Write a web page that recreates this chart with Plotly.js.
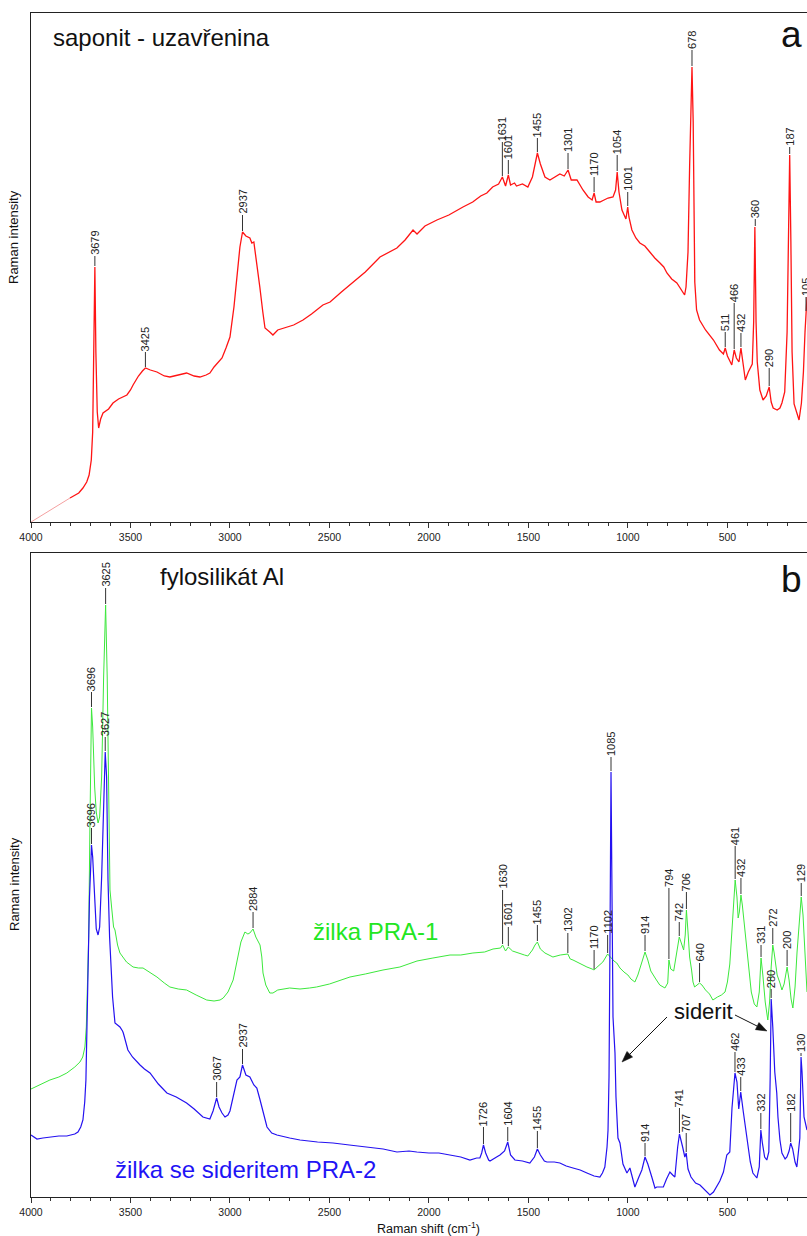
<!DOCTYPE html>
<html><head><meta charset="utf-8">
<script src="https://cdn.plot.ly/plotly-3.0.1.min.js"></script>
<style>html,body{margin:0;padding:0;background:#fff;} #chart{width:807px;height:1236px;}</style>
</head><body><div id="chart"></div>
<script>
// ---------------- DATA (arbitrary intensity units) ----------------
const redX = [4000,3900,3804,3760,3739,3720,3708,3697,3690,3684,3679,3674,3667,3660,3650,3638,3610,3588,3560,3518,3500,3487,3460,3440,3425,3400,3367,3330,3302,3260,3218,3180,3151,3120,3101,3080,3060,3040,3020,3000,2980,2965,2950,2937,2920,2900,2890,2880,2865,2850,2835,2824,2800,2784,2760,2714,2680,2633,2590,2533,2497,2440,2382,2320,2246,2200,2161,2120,2080,2060,2020,1960,1900,1829,1780,1740,1709,1680,1650,1631,1615,1601,1590,1570,1560,1530,1503,1480,1473,1455,1440,1417,1392,1370,1342,1320,1301,1285,1256,1226,1200,1180,1170,1160,1141,1120,1100,1075,1062,1054,1045,1030,1010,1001,995,980,960,940,915,890,865,839,820,804,780,754,730,715,708,698,690,684,678,672,668,664,655,640,610,570,540,520,511,500,478,466,455,442,432,422,410,395,385,375,368,362,356,350,337,321,305,290,280,270,250,236,226,212,200,193,187,181,175,165,150,140,128,118,110,105,100];
const redY = [0,12,24,29,34,40,47,62,90,170,255,170,110,94,103,109,113,119,123,127,132,137,146,151,154,152,150,146,145,147,149,146,145,147,149,155,160,164,174,185,215,249,275,290,286,284,279,280,260,235,210,194,190,187,192,195,197,202,208,217,220,230,240,250,265,270,274,282,292,288,296,302,307,315,320,326,329,335,338,345,336,347,337,339,336,338,335,345,352,369,358,345,342,345,348,346,352,342,342,332,325,322,329,320,320,322,324,325,332,350,330,312,303,315,305,292,284,279,276,270,264,259,255,249,243,239,232,227,235,270,355,420,455,400,330,240,212,202,192,182,172,168,174,166,157,172,164,160,174,160,142,150,155,158,200,295,200,160,132,122,126,135,120,114,112,114,119,130,190,300,367,280,170,118,108,102,119,150,190,210,225];

const greenX = [4000,3950,3905,3860,3820,3780,3754,3740,3729,3722,3717,3710,3704,3698,3696,3690,3680,3672,3663,3655,3645,3635,3625,3617,3610,3603,3595,3585,3578,3565,3553,3520,3487,3460,3437,3400,3367,3330,3302,3260,3218,3170,3117,3080,3050,3034,3010,2984,2970,2959,2945,2925,2910,2900,2884,2870,2849,2840,2834,2820,2814,2800,2784,2760,2700,2648,2600,2565,2500,2440,2397,2320,2231,2146,2060,1980,1894,1840,1779,1720,1678,1640,1630,1615,1601,1580,1543,1520,1503,1480,1467,1455,1440,1417,1377,1340,1302,1290,1276,1240,1206,1180,1170,1160,1140,1126,1102,1090,1070,1056,1040,1020,1000,985,965,950,930,914,900,885,860,840,814,800,794,785,770,760,742,730,720,712,706,698,690,680,673,665,650,640,628,610,590,573,550,530,512,500,488,475,465,461,452,446,440,432,425,410,397,380,365,352,340,331,322,310,297,288,280,272,265,250,236,226,215,200,190,180,171,160,150,136,129,120,113,105,100];
const greenY = [108,113,117,120,124,130,135,140,150,170,200,260,370,460,489,470,410,385,374,380,420,520,592,520,420,307,290,270,267,252,244,235,230,229,229,224,220,214,210,208,207,202,197,196,197,199,205,217,230,242,255,265,263,264,268,260,252,240,224,212,209,204,204,207,209,208,209,210,213,217,220,223,227,230,236,239,242,242,244,245,248,249,252,246,250,246,244,242,241,247,252,255,248,244,240,242,243,238,237,233,230,228,227,229,232,235,243,240,236,234,229,225,222,218,215,222,235,245,237,226,218,212,209,214,237,228,226,240,260,253,247,262,287,265,240,227,215,210,212,214,212,207,203,197,200,202,205,215,233,275,312,317,300,279,285,302,292,262,234,205,193,190,205,239,222,195,177,195,230,252,244,222,214,207,213,230,217,198,189,210,245,279,300,282,250,214,205];

const blueX = [4000,3970,3940,3900,3860,3820,3780,3764,3750,3739,3730,3724,3718,3714,3706,3698,3696,3690,3682,3672,3663,3655,3645,3635,3627,3620,3613,3605,3598,3590,3578,3565,3553,3540,3536,3513,3490,3452,3430,3402,3360,3317,3270,3218,3180,3136,3101,3085,3067,3055,3040,3025,3010,3000,2980,2965,2950,2937,2920,2900,2880,2865,2850,2840,2825,2814,2790,2764,2700,2648,2560,2482,2400,2312,2230,2161,2100,2061,2000,1950,1894,1840,1794,1760,1744,1735,1726,1715,1700,1693,1660,1643,1620,1604,1590,1568,1530,1493,1470,1455,1440,1420,1407,1370,1342,1310,1276,1240,1206,1170,1141,1128,1116,1105,1100,1095,1090,1085,1080,1075,1065,1060,1050,1040,1025,1005,990,965,945,930,914,900,880,864,855,822,806,789,775,764,750,741,725,714,707,698,683,673,660,638,610,588,570,538,520,503,488,477,462,452,443,433,420,402,385,372,352,340,332,325,313,302,292,285,280,272,262,252,246,236,226,210,201,190,182,172,160,151,140,136,130,125,115,105,100];
const blueY = [62,58,59,60,61,61,63,65,70,77,95,117,180,217,300,340,352,340,300,268,262,270,320,400,445,420,317,260,234,200,174,172,170,166,164,147,140,132,128,124,113,104,100,94,88,80,78,86,99,90,84,80,82,86,105,117,120,132,122,120,112,109,98,90,76,70,64,62,59,57,55,54,52,50,48,45,46,45,44,44,42,40,37,39,39,44,52,44,37,36,40,42,46,55,42,37,36,34,40,48,42,36,35,35,34,31,29,27,24,21,20,24,30,50,67,120,260,425,300,180,144,100,59,54,33,24,29,10,20,27,40,33,20,9,10,10,18,25,22,20,50,63,50,40,44,28,20,17,14,12,6,2,5,16,25,42,45,89,124,115,88,105,85,57,35,24,19,30,67,55,40,37,45,120,198,170,125,104,80,57,44,38,40,46,54,48,35,30,50,59,140,125,80,70,67];

const labelsRed   = [3679,3425,2937,1631,1601,1455,1301,1170,1054,1001,678,511,466,432,360,290,187,105];
const labelsGreen = [3696,3625,2884,1630,1601,1455,1302,1170,1102,914,794,742,706,640,461,432,331,272,200,129];
const labelsBlue  = [3696,3627,3067,2937,1726,1604,1455,1085,914,741,707,462,433,332,280,182,130];
const xTickStep = 500;

// ---------------- STYLE / LAYOUT ----------------
const FONT = "Arial, 'Liberation Sans', sans-serif";
const L = 31, T = 13, B = 39, W = 807, H = 1236;
const PH = H - T - B;              // 1184
const bottomPix = H - B;           // 1197
const pxX = p => (p - L) / (W - L);
const pxY = p => (bottomPix - p) / PH;

// leader line lengths for the peak labels
const leadRed = {3679:11,3425:16,2937:17,1631:35,1601:15,1455:15,1301:17,1170:16,1054:17,1001:15,678:17,511:16,466:47,432:15,360:8,290:19,187:8,105:15};
const leadGreen = {3696:16,3625:17,2884:17,1630:55,1601:20,1455:17,1302:21,1170:20,1102:19,914:17,794:72,742:15,706:18,640:20,461:34,432:17,331:13,272:17,200:17,129:14};
const leadBlue = {3696:17,3627:15,3067:16,2937:16,1726:18,1604:15,1455:18,1085:15,914:14,741:26,707:20,462:21,433:15,332:17,280:10,182:30,130:4};

const shapes = [], annotations = [];
function addLabels(labels, lead, xs, ys, xa, ya) {
  labels.forEach(wn => {
    let idx = 0, best = Infinity;
    xs.forEach((x, i) => { const d = Math.abs(x - wn); if (d < best) { best = d; idx = i; } });
    const peak = ys[idx];
    const top = peak + (lead[wn] || 16);
    shapes.push({type:'line', xref:xa, yref:ya, x0:wn, x1:wn, y0:peak + 1, y1:top,
                 line:{color:'#333', width:1}});
    annotations.push({xref:xa, yref:ya, x:wn, y:top, text:String(wn), textangle:-90,
                      showarrow:false, xanchor:'center', yanchor:'bottom', yshift:0,
                      borderpad:0, font:{size:11, color:'#222', family:FONT}});
  });
}
addLabels(labelsRed, leadRed, redX, redY, 'x2', 'y2');
addLabels(labelsGreen, leadGreen, greenX, greenY, 'x', 'y');
addLabels(labelsBlue, leadBlue, blueX, blueY, 'x', 'y');

function txt(text, xp, yp, size, color, xanchor) {
  annotations.push({xref:'paper', yref:'paper', x:pxX(xp), y:pxY(yp), text:text, showarrow:false,
    xanchor:xanchor || 'left', yanchor:'middle', borderpad:0, font:{size:size, color:color, family:FONT}});
}
txt('saponit - uzavřenina', 52, 37, 24, '#111');
txt('a', 791, 35, 37, '#111', 'center');
txt('fylosilikát Al', 159, 576, 24, '#111');
txt('b', 791, 579, 37, '#111', 'center');
txt('žilka PRA-1', 312, 931, 24, '#22e622');
txt('žilka se sideritem PRA-2', 114, 1169, 24, '#1f14f5');
txt('siderit', 673, 1011, 22, '#111');
txt('Raman shift (cm<sup>-1</sup>)', 429, 1228, 12.5, '#111', 'center');
// y axis titles
[237, 884].forEach(yp => annotations.push({xref:'paper', yref:'paper', x:0, xshift:-17, y:pxY(yp),
  text:'Raman intensity', textangle:-90, showarrow:false, xanchor:'center', yanchor:'middle',
  font:{size:13, color:'#111', family:FONT}}));

// siderit arrows drawn as shapes (line + filled head), in pixel positions converted to paper units
function arrow(tail, tip) {
  const dx = tip[0] - tail[0], dy = tip[1] - tail[1];
  const len = Math.hypot(dx, dy), ux = dx / len, uy = dy / len;
  const hl = 11, hw = 4;
  const bx = tip[0] - hl * ux, by = tip[1] - hl * uy;
  const p1 = [bx - hw * uy, by + hw * ux], p2 = [bx + hw * uy, by - hw * ux];
  shapes.push({type:'line', xref:'paper', yref:'paper', x0:pxX(tail[0]), y0:pxY(tail[1]),
    x1:pxX(bx), y1:pxY(by), line:{color:'#111', width:1}});
  const P = p => pxX(p[0]).toFixed(5) + ',' + pxY(p[1]).toFixed(5);
  shapes.push({type:'path', xref:'paper', yref:'paper',
    path:'M' + P(tip) + ' L' + P(p1) + ' L' + P(p2) + ' Z',
    fillcolor:'#111', line:{color:'#111', width:0.5}});
}
arrow([667, 1017], [622, 1062]);
arrow([735, 1015], [767, 1031]);

const splitAt = 3804;
const pinkX = [], pinkY = [], mainX = [], mainY = [];
redX.forEach((x, i) => {
  if (x >= splitAt) { pinkX.push(x); pinkY.push(redY[i]); }
  if (x <= splitAt) { mainX.push(x); mainY.push(redY[i]); }
});

const traces = [
  {x:pinkX, y:pinkY, xaxis:'x2', yaxis:'y2', mode:'lines', line:{color:'#f4a0a0', width:1}, hoverinfo:'skip'},
  {x:mainX, y:mainY, xaxis:'x2', yaxis:'y2', mode:'lines', line:{color:'#ff1414', width:1.3}, hoverinfo:'skip'},
  {x:greenX, y:greenY, xaxis:'x', yaxis:'y', mode:'lines', line:{color:'#3ce83c', width:1}, hoverinfo:'skip'},
  {x:blueX, y:blueY, xaxis:'x', yaxis:'y', mode:'lines', line:{color:'#2411f0', width:1.2}, hoverinfo:'skip'}
];

const xBase = {
  range:[4000, 100], tickmode:'linear', tick0:0, dtick:xTickStep, ticks:'outside', ticklen:5, tickwidth:1,
  tickcolor:'#333', showline:true, linecolor:'#222', linewidth:1, mirror:true, showgrid:false, zeroline:false,
  tickfont:{size:10.5, color:'#222', family:FONT}, automargin:false, fixedrange:true,
  minor:{dtick:100, tick0:0, ticks:'outside', ticklen:3, tickwidth:1, tickcolor:'#333', showgrid:false}
};
const yBase = {showline:true, linecolor:'#222', linewidth:1, ticks:'', showticklabels:false, showgrid:false,
  zeroline:false, automargin:false, fixedrange:true};

const layout = {
  width:W, height:H, margin:{l:L, r:0, t:T, b:B}, paper_bgcolor:'#fff', plot_bgcolor:'#fff',
  showlegend:false, font:{family:FONT},
  xaxis:Object.assign({}, xBase, {anchor:'y'}),
  yaxis:Object.assign({}, yBase, {domain:[0, 644/PH], range:[0, 644], anchor:'x'}),
  xaxis2:Object.assign({}, xBase, {anchor:'y2'}),
  yaxis2:Object.assign({}, yBase, {domain:[675/PH, 1], range:[0, 509], anchor:'x2'}),
  shapes:shapes, annotations:annotations
};
Plotly.newPlot('chart', traces, layout, {staticPlot:true, displayModeBar:false});
</script></body></html>
